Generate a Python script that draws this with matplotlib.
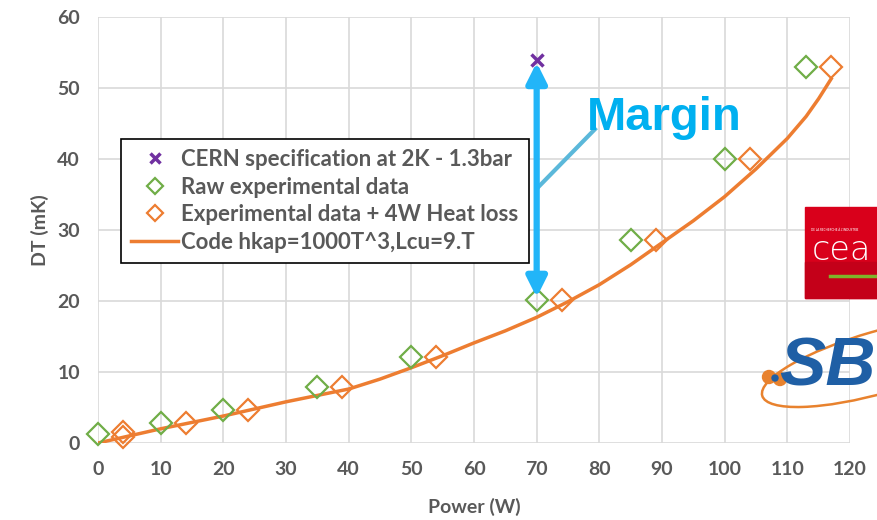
import matplotlib.pyplot as plt
from matplotlib.patches import Rectangle, Ellipse, Circle

# data
spec_power = [70]
spec_dt = [54]

raw_power = [0, 10, 20, 35, 50, 70, 85, 100, 113]
raw_dt = [1.25, 2.8, 4.6, 7.9, 12.1, 20.2, 28.6, 40.0, 53.0]

loss_power = [4, 4, 14, 24, 39, 54, 74, 89, 104, 117]
loss_dt = [1.5, 0.8, 2.8, 4.6, 7.9, 12.1, 20.2, 28.6, 40.0, 53.0]

code_power = [0, 5, 10, 15, 20, 25, 30, 35, 40, 45, 50, 55, 60, 65, 70, 75, 80, 85, 90, 95, 100, 105, 110, 113, 115, 117]
code_dt = [0, 1.0, 2.0, 2.9, 3.8, 4.8, 5.8, 6.7, 7.6, 9.0, 10.6, 12.3, 14.1, 15.8, 17.7, 19.9, 22.3, 25.1, 28.2, 31.3, 34.7, 38.6, 42.9, 46.0, 48.5, 51.3]

x_ticks = list(range(0, 121, 10))
y_ticks = list(range(0, 61, 10))

gray = '#595959'
green = '#70AD47'
orange = '#ED7D31'
purple = '#7030A0'
blue = '#22B5F8'

plt.rcParams['font.family'] = ['Lato', 'DejaVu Sans']

fig = plt.figure(figsize=(8.77, 5.2), dpi=100)
ax = fig.add_axes([98 / 877, 1 - 443 / 520, 752 / 877, 426 / 520])

ax.plot(spec_power, spec_dt, linestyle='none', marker='x', markersize=9,
        markeredgewidth=2.5, color=purple, label='CERN specification at 2K - 1.3bar', zorder=6)
ax.plot(raw_power, raw_dt, linestyle='none', marker='D', markersize=11, clip_on=False,
        markerfacecolor='none', markeredgewidth=1.6, color=green, label='Raw experimental data', zorder=4)
ax.plot(loss_power, loss_dt, linestyle='none', marker='D', markersize=11, clip_on=False,
        markerfacecolor='none', markeredgewidth=1.6, color=orange, label='Experimental data + 4W Heat loss', zorder=4)
ax.plot(code_power, code_dt, color=orange, linewidth=2.5, label='Code hkap=1000T^3,Lcu=9.T', zorder=3)

ax.set_xlim(0, 120)
ax.set_ylim(0, 60)
ax.set_xticks(x_ticks)
ax.set_yticks(y_ticks)
ax.grid(True, color='#D9D9D9', linewidth=1.2)
ax.set_axisbelow(True)
for s in ax.spines.values():
    s.set_visible(False)
ax.tick_params(length=0, labelsize=14, labelcolor=gray, pad=13)
for lbl in ax.get_xticklabels() + ax.get_yticklabels():
    lbl.set_fontweight('bold')
ax.set_xlabel('Power (W)', fontsize=14, fontweight='bold', color=gray, labelpad=14)
ax.set_ylabel('DT (mK)', fontsize=14, fontweight='bold', color=gray, labelpad=6)

leg = ax.legend(loc='upper left', bbox_to_anchor=(0.031, 0.714), fontsize=16,
                frameon=True, fancybox=False, edgecolor='black', framealpha=1,
                markerscale=0.75, labelspacing=0.3, handlelength=2.1,
                handletextpad=0.15, borderpad=0.45, borderaxespad=0)
leg.get_frame().set_linewidth(1.2)
for t in leg.get_texts():
    t.set_color(gray)
    t.set_fontweight('bold')
leg.set_zorder(5)

# margin arrow between spec and measurement
ax.annotate('', xy=(70, 53.6), xytext=(70, 20.5),
            arrowprops=dict(arrowstyle='<|-|>', color=blue, lw=4.5, mutation_scale=30,
                            shrinkA=0, shrinkB=0), zorder=7)
ax.plot([70.1, 79.3], [35.9, 44.2], color='#5BB8DA', linewidth=3, zorder=6)
ax.text(78, 44.1, 'Margin', fontsize=34, fontweight='bold', color='#00B0F0',
        family='Liberation Sans', ha='left', va='baseline', zorder=7)

# logos, drawn in pixel coordinates on an overlay
ov = fig.add_axes([0, 0, 1, 1], zorder=10)
ov.set_xlim(0, 877)
ov.set_ylim(520, 0)
ov.axis('off')
ov.patch.set_alpha(0)

ov.add_patch(Rectangle((805, 207), 80, 91, color='#D9001B'))
ov.add_patch(Rectangle((805, 262), 80, 36, color='#C40019'))
ov.text(811, 230, "DE LA RECHERCHE À L'INDUSTRIE", fontsize=2.2, color='white', va='center')
ov.text(812, 251, 'cea', fontsize=24, color='white', fontweight='light',
        family='DejaVu Sans', va='center')
ov.plot([830, 877], [276, 276], color='#7DB52A', linewidth=2.5)

ov.add_patch(Ellipse((880, 362), 245, 62, angle=-16, fill=False, edgecolor='#E8822E', linewidth=1.8))
ov.text(779, 368, 'SB', fontsize=50, color='#1F5FA5', fontweight='bold', style='italic',
        family='Liberation Sans', va='center')
ov.add_patch(Circle((769, 377), 6.5, color='#E8822E'))
ov.add_patch(Circle((780, 379), 6.5, color='#E8822E'))
ov.add_patch(Circle((775, 378), 3, color='#1F5FA5'))

fig.savefig('out.png', dpi=100)
